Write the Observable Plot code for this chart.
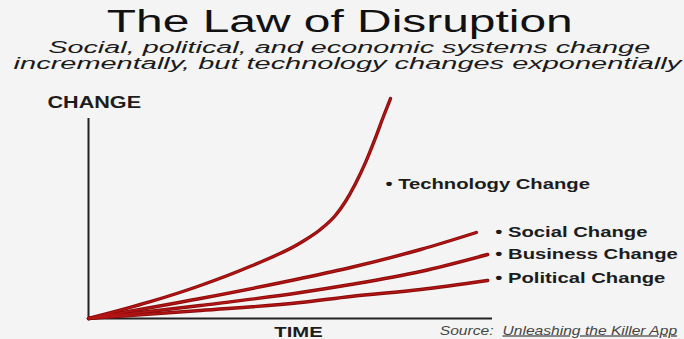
<!DOCTYPE html>
<html>
<head>
<meta charset="utf-8">
<script src="https://cdn.jsdelivr.net/npm/d3@7"></script>
<script src="https://cdn.jsdelivr.net/npm/@observablehq/plot@0.6"></script>
<style>
  html, body { margin: 0; padding: 0; background: #f4f4f4; }
  #page { position: relative; width: 684px; height: 339px; overflow: hidden; background: #f4f4f4; }
  .hl { position: absolute; left: 0; width: 684px; text-align: center; white-space: nowrap; }
  .hl span { display: inline-block; transform-origin: center; }
  #title { top: 6px; font: 31px/31px "Liberation Sans", Arial, sans-serif; color: #111; }
  #title span { transform: translateX(-2px) scaleX(1.545); }
  .sub { font: italic 16px/16px "Liberation Sans", Arial, sans-serif; color: #1a1a1a; }
  #sub1 { top: 40px; }
  #sub1 span { transform: translateX(7px) scaleX(1.80); }
  #sub2 { top: 56px; }
  #sub2 span { transform: translateX(5px) scaleX(1.81); }
  #chart { position: absolute; left: 0; top: 80px; }
</style>
</head>
<body>
<div id="page">
  <div id="title" class="hl"><span>The Law of Disruption</span></div>
  <div id="sub1" class="hl sub"><span>Social, political, and economic systems change</span></div>
  <div id="sub2" class="hl sub"><span>incrementally, but technology changes exponentially</span></div>
  <div id="chart"></div>
</div>
<script>
// ---- data (time 0..100, change 0..110) ----
const seriesNames = ["Technology Change", "Social Change", "Business Change", "Political Change"];
const techTime   = [0, 15.3, 27.7, 40.1, 52.5, 57.4, 61.1, 63.6, 66.1, 68.6, 71.0, 73.0, 74.75];
const techChange = [0, 8.4, 16.5, 26.1, 37.9, 44.5, 51.5, 58.5, 67.5, 78.2, 90.2, 101, 110];
const socialTime   = [0, 27.7, 52.5, 64.9, 82.2, 96.0];
const socialChange = [0, 10, 20, 25.5, 34.5, 43];
const businessTime   = [0, 27.7, 52.5, 64.9, 82.2, 98.8];
const businessChange = [0, 6.5, 13, 17, 23.5, 32];
const politicalTime   = [0, 27.7, 52.5, 64.9, 82.2, 98.8];
const politicalChange = [0, 4, 8, 11, 14.5, 19];
// label anchors (time, change) for the bullet labels
const labelTime   = [73.5, 100.7, 100.7, 100.7];
const labelChange = [65, 41, 30, 18];
const axisMax = 100;
const yTitle = "CHANGE";
const xTitle = "TIME";
const sourcePrefix = "Source:";
const sourceTitle = "Unleashing the Killer App";

const times = [techTime, socialTime, businessTime, politicalTime];
const changes = [techChange, socialChange, businessChange, politicalChange];
const rows = [];
seriesNames.forEach((s, k) => times[k].forEach((t, i) => rows.push({series: s, time: t, change: changes[k][i]})));
const labels = seriesNames.map((s, k) => ({label: "\u2022 " + s, time: labelTime[k], change: labelChange[k]}));

const plot = Plot.plot({
  width: 684,
  height: 259,
  marginLeft: 88,
  marginRight: 192,
  marginTop: 18,
  marginBottom: 21,
  x: {domain: [0, 100], axis: null},
  y: {domain: [0, 110], axis: null},
  style: {background: "transparent", overflow: "visible"},
  marks: [
    Plot.ruleX([0], {y1: 0, y2: axisMax, stroke: "#222", strokeWidth: 2}),
    Plot.ruleY([0], {x1: 0, x2: axisMax, stroke: "#222", strokeWidth: 2}),
    Plot.line(rows, {x: "time", y: "change", z: "series", stroke: "#8a0a0a", strokeWidth: 3.4, curve: "monotone-x"}),
    Plot.line(rows, {x: "time", y: "change", z: "series", stroke: "#b31515", strokeWidth: 1.6, curve: "monotone-x"}),
    Plot.text(labels, {x: "time", y: "change", text: "label", textAnchor: "start", lineAnchor: "bottom",
      fontFamily: "Liberation Sans, Arial, sans-serif", fontWeight: "bold", fontSize: 15, fill: "#1c1c1c", clip: false}),
    Plot.text([yTitle], {frameAnchor: "top-left", text: d => d, textAnchor: "start", lineAnchor: "bottom", dx: -41, dy: 9,
      fontFamily: "Liberation Sans, Arial, sans-serif", fontWeight: "bold", fontSize: 16, fill: "#1c1c1c"}),
    Plot.text([xTitle], {frameAnchor: "bottom-left", text: d => d, textAnchor: "middle", lineAnchor: "bottom", dx: 210, dy: 18,
      fontFamily: "Liberation Sans, Arial, sans-serif", fontWeight: "bold", fontSize: 15, fill: "#1c1c1c"}),
    Plot.text([sourcePrefix], {frameAnchor: "bottom-right", text: d => d, textAnchor: "end", lineAnchor: "bottom", dx: 1, dy: 16,
      fontFamily: "Liberation Sans, Arial, sans-serif", fontStyle: "italic", fontSize: 12.5, fill: "#444"}),
    Plot.text([sourceTitle], {frameAnchor: "bottom-right", text: d => d, textAnchor: "start", lineAnchor: "bottom", dx: 10, dy: 16,
      fontFamily: "Liberation Sans, Arial, sans-serif", fontStyle: "italic", fontSize: 12.5, fill: "#444"})
  ]
});
document.getElementById("chart").appendChild(plot);

// horizontal stretch of the labels, as in the (widened) reference
d3.select(plot).selectAll("text").each(function() {
  const t = this.textContent;
  const s = (t === sourcePrefix || t === sourceTitle) ? 1.25 : 1.35;
  if (t === sourceTitle) this.setAttribute("text-decoration", "underline");
  const tr = this.getAttribute("transform");
  if (tr) this.setAttribute("transform", tr + ` scale(${s},1)`);
  else {
    const x = +this.getAttribute("x") || 0, y = +this.getAttribute("y") || 0;
    this.setAttribute("transform", `translate(${x},${y}) scale(${s},1) translate(${-x},${-y})`);
  }
});
</script>
</body>
</html>
